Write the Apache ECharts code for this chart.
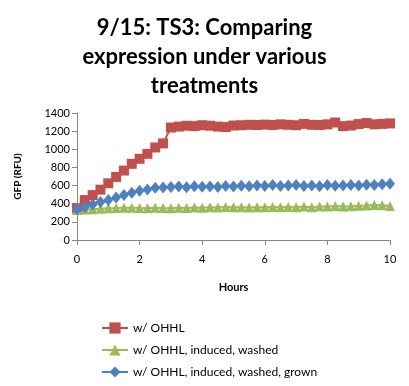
<!DOCTYPE html>
<html>
<head>
<meta charset="utf-8">
<script src="https://cdn.jsdelivr.net/npm/echarts@6/dist/echarts.min.js"></script>
<style>html,body{margin:0;padding:0;background:#fff;}#c{width:409px;height:386px;}</style>
</head>
<body>
<div id="c"></div>
<script>
var hours = [0,0.25,0.5,0.75,1,1.25,1.5,1.75,2,2.25,2.5,2.75,3,3.25,3.5,3.75,4,4.25,4.5,4.75,5,5.25,5.5,5.75,6,6.25,6.5,6.75,7,7.25,7.5,7.75,8,8.25,8.5,8.75,9,9.25,9.5,9.75,10];
var ohhl = [350,440,495,555,625,695,765,840,895,950,1020,1065,1240,1250,1260,1255,1265,1260,1250,1245,1262,1265,1270,1268,1272,1268,1275,1270,1265,1280,1270,1268,1275,1295,1255,1262,1278,1290,1275,1280,1285];
var washed = [330,335,340,345,350,352,355,355,352,350,355,352,350,355,352,358,355,360,358,365,360,362,358,362,360,365,360,365,362,368,362,370,368,375,370,372,378,380,385,382,375];
var grown = [340,365,390,420,440,468,495,520,542,556,575,580,585,590,582,592,588,590,585,595,590,598,592,600,595,605,595,600,605,595,600,592,605,598,600,605,602,610,605,615,620];
var seriesNames = ['w/ OHHL','w/ OHHL, induced, washed','w/ OHHL, induced, washed, grown'];
var titleText = '9/15: TS3: Comparing\nexpression under various\ntreatments';

function pairs(v){ return hours.map(function(h,i){ return [h, v[i]]; }); }
var font = 'Lato, "Open Sans", sans-serif';
var chart = echarts.init(document.getElementById('c'));
chart.setOption({
  animation: false,
  title: {
    text: titleText, left: 'center', top: 8,
    textStyle: {fontFamily: font, fontSize: 22, fontWeight: 'bold', color: '#000', lineHeight: 29}
  },
  legend: {
    orient: 'vertical', left: 96, top: 317, itemWidth: 26, itemHeight: 14, itemGap: 10,
    data: seriesNames,
    textStyle: {fontFamily: font, fontSize: 12, color: '#000'}
  },
  grid: {left: 77, right: 19, top: 113, bottom: 146},
  xAxis: {
    type: 'value', min: 0, max: 10, interval: 2,
    name: 'Hours', nameLocation: 'middle', nameGap: 42,
    nameTextStyle: {fontFamily: font, fontSize: 11, fontWeight: 'bold', color: '#000'},
    axisLine: {lineStyle: {color: '#868686'}},
    axisTick: {show: true, length: 5, lineStyle: {color: '#868686'}},
    axisLabel: {fontFamily: font, fontSize: 11, color: '#000', margin: 14},
    splitLine: {show: false}
  },
  yAxis: {
    type: 'value', min: 0, max: 1400, interval: 200,
    name: 'GFP (RFU)', nameLocation: 'middle', nameGap: 54, nameRotate: 90,
    nameTextStyle: {fontFamily: font, fontSize: 10, fontWeight: 'bold', color: '#000'},
    axisLine: {show: true, lineStyle: {color: '#868686'}},
    axisTick: {show: true, length: 5, lineStyle: {color: '#868686'}},
    axisLabel: {fontFamily: font, fontSize: 11, color: '#000', margin: 7, formatter: function(v){ return String(v); }},
    splitLine: {show: false}
  },
  series: [
    {name: seriesNames[0], type: 'line', data: pairs(ohhl), symbol: 'rect', symbolSize: 10,
     itemStyle: {color: '#C0504D'}, lineStyle: {color: '#C0504D', width: 2}},
    {name: seriesNames[1], type: 'line', data: pairs(washed), symbol: 'triangle', symbolSize: 10,
     itemStyle: {color: '#9BBB59'}, lineStyle: {color: '#9BBB59', width: 2}},
    {name: seriesNames[2], type: 'line', data: pairs(grown), symbol: 'diamond', symbolSize: [10,12],
     itemStyle: {color: '#4F81BD'}, lineStyle: {color: '#4F81BD', width: 2}}
  ]
});
</script>
</body>
</html>
